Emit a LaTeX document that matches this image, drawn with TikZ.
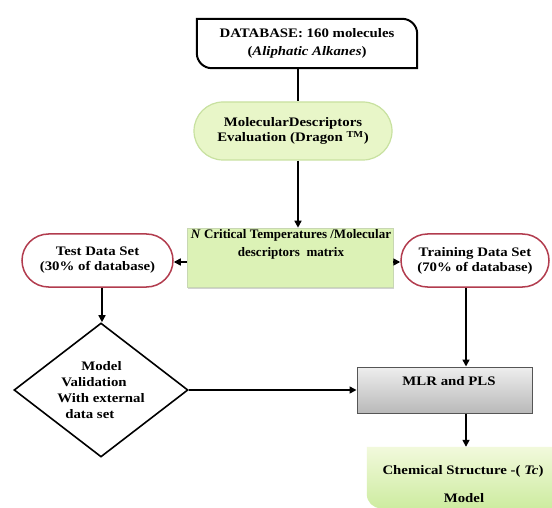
\documentclass[tikz,border=0pt]{standalone}
\usepackage{fontspec}
\setmainfont[FakeStretch=1.14]{Liberation Serif}
\newfontfamily\plainserif{Liberation Serif}
\usetikzlibrary{arrows.meta,shapes.geometric,shapes.misc,shadows,calc}
\definecolor{pillfill}{RGB}{232,246,200}
\definecolor{pilldraw}{RGB}{200,225,160}
\definecolor{matfill}{RGB}{220,242,182}
\definecolor{matdraw}{RGB}{200,215,178}
\definecolor{setred}{RGB}{178,60,78}
\definecolor{mlrtop}{RGB}{238,238,238}
\definecolor{mlrbot}{RGB}{185,185,185}
\definecolor{mlrdraw}{RGB}{85,85,85}
\definecolor{chemtop}{RGB}{242,249,220}
\definecolor{chembot}{RGB}{205,236,160}
\begin{document}
\begin{tikzpicture}[x=1pt,y=1pt,
  font=\bfseries\fontsize{13}{15}\selectfont,
  txt/.style={inner sep=0pt,align=center},
  dbbox/.style={minimum width=220pt,minimum height=49pt,inner sep=0pt,align=center,font=\bfseries\fontsize{13}{18}\selectfont},
  dbline/.style={line width=2pt,black},
  evalpill/.style={rounded rectangle,minimum width=198pt,minimum height=58pt,inner sep=0pt,align=center,fill=pillfill,draw=pilldraw,line width=1.2pt},
  matbox/.style={rectangle,minimum width=206pt,minimum height=59pt,inner sep=0pt,fill=matfill,draw=matdraw,line width=0.6pt,drop shadow={opacity=0.35,shadow xshift=1pt,shadow yshift=-2pt}},
  setpill/.style={rounded rectangle,minimum width=151pt,minimum height=53pt,inner sep=0pt,align=center,fill=white,draw=setred,line width=1.5pt},
  valdiamond/.style={diamond,aspect=1.3,minimum width=174pt,minimum height=134pt,inner sep=0pt,align=left,draw=black,line width=1.6pt,font=\bfseries\fontsize{13}{16}\selectfont},
  mlrbox/.style={rectangle,minimum width=175pt,minimum height=46pt,inner sep=0pt,top color=mlrtop,bottom color=mlrbot,draw=mlrdraw,line width=1pt},
  chembox/.style={rectangle,minimum width=199pt,minimum height=61pt,inner sep=0pt},
  conn/.style={line width=1.6pt,black},
  arr/.style={conn,-{Triangle[length=7pt,width=7pt]}}
]
\useasboundingbox (0,0) rectangle (552,507);
\fill[white] (0,0) rectangle (552,507);

% database
\node[dbbox] (db) at (307,463.5) {DATABASE: 160 molecules\\(\textit{Aliphatic Alkanes})};
\draw[dbline] (db.north west) -- ([xshift=-15pt]db.north east) arc[start angle=90,end angle=0,radius=15pt]
  -- (db.south east) -- ([xshift=15pt]db.south west) arc[start angle=270,end angle=180,radius=15pt] -- cycle;

% descriptor evaluation
\node[evalpill] (eval) at (293,376) {MolecularDescriptors\\Evaluation (Dragon \textsuperscript{TM})};

% matrix
\node[matbox] (mat) at (290,249.5) {};
\node[txt,font=\plainserif\bfseries\fontsize{13}{18}\selectfont] (matT) at (291,263) {\textit{N} Critical Temperatures /Molecular\\descriptors\ \ matrix};

% data sets
\node[setpill] (test) at (97.5,246.5) {Test Data Set\\(30\% of database)};
\node[setpill,minimum width=148pt] (train) at (475,246.5) {Training Data Set\\(70\% of database)};

% validation
\node[valdiamond] (val) at (101,117) {\hspace{24pt}Model\\\hspace{4pt}Validation\\With external\\\hspace{8pt}data set\hspace{0pt}};

% MLR and PLS
\node[mlrbox] (mlr) at (444.5,117) {};
\node[txt] (mlrT) at (449,126) {MLR and PLS};

% chemical structure model
\node[chembox] (chem) at (466.5,29.5) {};
\begin{scope}
\clip (0,0) rectangle (552,507);
\shade[top color=chemtop,bottom color=chembot] (chem.north west) -- (chem.north east) -- (chem.south east)
  -- ([xshift=14pt]chem.south west) arc[start angle=270,end angle=180,radius=14pt] -- cycle;
\end{scope}
\node[txt] (chemT) at (463,36) {Chemical Structure -( \textit{Tc})};
\node[txt] (chemM) at (464,9) {Model};

% connectors
\coordinate (xa) at (298,0);
\coordinate (ya) at (0,245);
\coordinate (xb) at (102,0);
\coordinate (xc) at (466,0);
\draw[conn] (db.south -| xa) -- (eval.north -| xa);
\draw[arr] (eval.south -| xa) -- (mat.north -| xa);
\draw[arr] (mat.west |- ya) -- (test.east |- ya);
\draw[arr] (mat.east |- ya) -- (train.west |- ya);
\draw[arr] (test.south -| xb) -- (val.north -| xb);
\draw[arr] (val.east) -- (mlr.west);
\draw[arr] (train.south -| xc) -- (mlr.north -| xc);
\draw[arr] (mlr.south -| xc) -- (chem.north -| xc);
\end{tikzpicture}
\end{document}
